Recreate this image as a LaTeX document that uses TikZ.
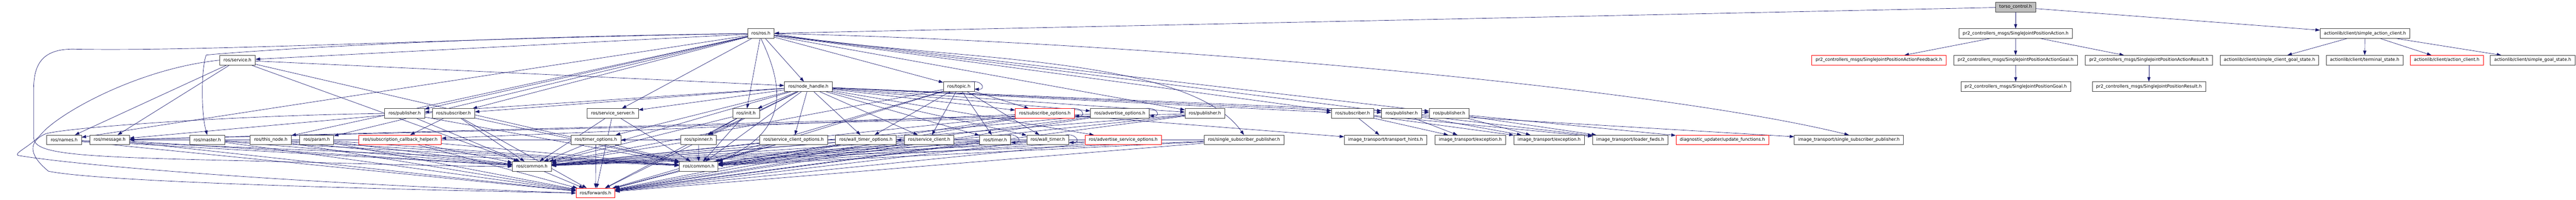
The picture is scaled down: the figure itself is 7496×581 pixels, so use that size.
\documentclass[tikz,border=0pt]{standalone}
\usepackage{fontspec}
\newfontfamily\dvs{DejaVu Sans}
\usetikzlibrary{arrows.meta,backgrounds,calc}
\definecolor{edgeblue}{HTML}{191970}
\definecolor{nodeborder}{HTML}{404040}
\definecolor{nodered}{HTML}{FF0000}
\definecolor{nodegray}{HTML}{BFBFBF}
\begin{document}
\begin{tikzpicture}[x=1bp,y=-1bp,
  box/.style={draw=nodeborder, line width=1.2bp, fill=white, minimum height=27.8bp, inner xsep=11.2bp, inner ysep=0bp, font={\dvs\fontsize{12.7bp}{15bp}\selectfont}, text=black},
  redbox/.style={box, draw=nodered},
  graybox/.style={box, fill=nodegray},
  edge/.style={draw=edgeblue, line width=1bp, -{Triangle[length=13bp,width=9bp]}},
]
\useasboundingbox (0,0) rectangle (7496,581);
% row 0
\node[graybox] (torso) at (5865.3,20.6) {torso\_control.h};
% row 1
\node[box] (rosh) at (2214.3,97.6) {ros/ros.h};
\node[box] (pract) at (5865.3,97.6) {pr2\_controllers\_msgs/SingleJointPositionAction.h};
\node[box] (sac) at (6881.8,97.6) {actionlib/client/simple\_action\_client.h};
% row 2
\node[box] (service) at (691.1,175) {ros/service.h};
\node[redbox] (fb) at (5467.2,175) {pr2\_controllers\_msgs/SingleJointPositionActionFeedback.h};
\node[box] (agoal) at (5865.1,175) {pr2\_controllers\_msgs/SingleJointPositionActionGoal.h};
\node[box] (ares) at (6253.1,175) {pr2\_controllers\_msgs/SingleJointPositionActionResult.h};
\node[box] (scgs) at (6604,175) {actionlib/client/simple\_client\_goal\_state.h};
\node[box] (ts) at (6881,175) {actionlib/client/terminal\_state.h};
\node[redbox] (ac) at (7119.7,175) {actionlib/client/action\_client.h};
\node[box] (sgs) at (7369.9,175) {actionlib/client/simple\_goal\_state.h};
% row 3
\node[box] (nh) at (2352.3,252) {ros/node\_handle.h};
\node[box] (topic) at (2790.1,252) {ros/topic.h};
\node[box] (goal) at (5865.5,252) {pr2\_controllers\_msgs/SingleJointPositionGoal.h};
\node[box] (result) at (6253.1,252) {pr2\_controllers\_msgs/SingleJointPositionResult.h};
% row 4
\node[box] (pubA) at (1177.3,330) {ros/publisher.h};
\node[box] (subA) at (1319.7,330) {ros/subscriber.h};
\node[box] (ss) at (1783,330) {ros/service\_server.h};
\node[box] (initn) at (2171,330) {ros/init.h};
\node[redbox] (so) at (3040.4,330) {ros/subscribe\_options.h};
\node[box] (ao) at (3258.6,330) {ros/advertise\_options.h};
\node[box] (pubB) at (3506.3,330) {ros/publisher.h};
\node[box] (subB) at (3935.9,330) {ros/subscriber.h};
\node[box] (pubC) at (4078.5,330) {ros/publisher.h};
\node[box] (pubD) at (4217,330) {ros/publisher.h};
% row 5
\node[box] (names) at (186.5,407) {ros/names.h};
\node[box] (message) at (319,407) {ros/message.h};
\node[box] (master) at (603,407) {ros/master.h};
\node[box] (thisnode) at (788,407) {ros/this\_node.h};
\node[box] (param) at (921.5,407) {ros/param.h};
\node[redbox] (sch) at (1164.5,407) {ros/subscription\_callback\_helper.h};
\node[box] (tmo) at (1733.8,407) {ros/timer\_options.h};
\node[box] (spinner) at (2032.7,407) {ros/spinner.h};
\node[box] (sco) at (2309.2,407) {ros/service\_client\_options.h};
\node[box] (wto) at (2519.6,407) {ros/wall\_timer\_options.h};
\node[box] (sc) at (2703.7,407) {ros/service\_client.h};
\node[box] (timer) at (2895.8,407) {ros/timer.h};
\node[box] (wt) at (3049,407) {ros/wall\_timer.h};
\node[redbox] (aso) at (3268.6,407) {ros/advertise\_service\_options.h};
\node[box] (ssp) at (3619.8,407) {ros/single\_subscriber\_publisher.h};
\node[box] (th) at (4031.7,407) {image\_transport/transport\_hints.h};
\node[box] (exca) at (4278.5,407) {image\_transport/exception.h};
\node[box] (excb) at (4508,407) {image\_transport/exception.h};
\node[box] (lf) at (4743.9,407) {image\_transport/loader\_fwds.h};
\node[redbox] (duf) at (5012,407) {diagnostic\_updater/update\_functions.h};
\node[box] (itssp) at (5380.1,407) {image\_transport/single\_subscriber\_publisher.h};
% row 6
\node[box] (commonA) at (1547.8,484) {ros/common.h};
\node[box] (commonB) at (2033,484) {ros/common.h};
% row 7
\node[redbox] (fwd) at (1733,561.5) {ros/forwards.h};

\begin{scope}[on background layer]
\foreach \a/\b in {torso/rosh, torso/pract, torso/sac,
  pract/fb, pract/agoal, pract/ares, agoal/goal, ares/result,
  sac/scgs, sac/ts, sac/ac, sac/sgs,
  rosh/service, rosh/nh, rosh/topic, rosh/initn, rosh/pubA, rosh/subA, rosh/ss, rosh/pubB, rosh/subB, rosh/pubC, rosh/pubD, rosh/names, rosh/thisnode, rosh/param,
  service/names, service/message, service/nh, service/commonA, service/commonB}
  \draw[edge] (\a) -- (\b);
\foreach \a/\b in {nh/initn, nh/spinner, nh/sco, nh/wto, nh/tmo, nh/sc, nh/timer, nh/wt, nh/so, nh/ao, nh/aso, nh/pubA, nh/subA, nh/ss, nh/pubB, nh/subB, nh/pubC, nh/pubD, nh/commonA, nh/commonB, nh/fwd,
  topic/sc, topic/timer, topic/wt, topic/so, topic/wto, topic/commonA, topic/commonB, topic/fwd}
  \draw[edge] (\a) -- (\b);
\foreach \a/\b in {pubA/message, pubA/commonA, pubA/commonB,
  subA/sch, subA/commonA, subA/commonB, subA/fwd,
  ss/commonA, ss/commonB, ss/fwd,
  initn/spinner, initn/commonA, initn/commonB, initn/fwd,
  so/sch, so/th, so/commonA, so/commonB, so/fwd,
  ao/message, ao/commonA, ao/commonB, ao/fwd,
  pubB/message, pubB/commonA, pubB/commonB, pubB/fwd,
  subB/th, subB/exca, subB/excb, subB/lf,
  pubC/exca, pubC/excb, pubC/lf, pubC/itssp,
  pubD/excb, pubD/lf, pubD/duf}
  \draw[edge] (\a) -- (\b);
\foreach \a/\b in {names/commonA, names/commonB, names/fwd,
  message/commonA, message/fwd,
  master/commonA, master/commonB, master/fwd,
  thisnode/commonA, thisnode/commonB, thisnode/fwd,
  param/commonA, param/commonB, param/fwd,
  sch/commonA, sch/commonB, sch/fwd,
  tmo/commonA, tmo/commonB, tmo/fwd,
  spinner/commonA, spinner/commonB,
  sco/commonA, sco/commonB, sco/fwd,
  wto/commonA, wto/commonB, wto/fwd,
  sc/commonA, sc/commonB, sc/fwd,
  timer/tmo, timer/commonA, timer/commonB, timer/fwd,
  wt/wto, wt/commonA, wt/commonB, wt/fwd,
  aso/commonA, aso/commonB, aso/fwd,
  ssp/message, ssp/commonA, ssp/commonB, ssp/fwd,
  commonA/fwd, commonB/fwd}
  \draw[edge] (\a) -- (\b);
% curved routes
\draw[edge] (rosh.west) .. controls (1300,108) and (700,150) .. (600,160) .. controls (585,200) and (585,330) .. (master.north);
\draw[edge] (rosh.west) .. controls (1300,112) and (600,150) .. (220,143) .. controls (120,140) and (98,190) .. (98,260) -- (98,400) .. controls (98,445) and (200,455) .. (600,465) .. controls (1000,474) and (1300,484) .. (commonA.west);
\draw[edge] (service.west) .. controls (400,200) and (170,330) .. (120,390) .. controls (90,425) and (40,445) .. (52,452) .. controls (250,485) and (900,535) .. (fwd.west);
\draw[edge] (pubA.west) .. controls (700,335) and (200,370) .. (133,389) .. controls (95,405) and (70,440) .. (141,498) .. controls (300,530) and (1100,550) .. (fwd.west);
\draw[edge] (rosh.east) .. controls (2700,178) and (3450,150) .. (ssp.north);
\draw[edge] (rosh.east) .. controls (3300,120) and (4800,250) .. (itssp.north);
\draw[edge] (rosh.south) .. controls (2280,250) and (2300,380) .. (commonB.north east);
\end{scope}
% self loops
\foreach \n in {topic, timer, wt, so, ao}
  \draw[edge] ($(\n.north east)+(-10,0)$) .. controls +(34,-4) and +(34,2) .. ($(\n.east)+(0,7)$);
\end{tikzpicture}
\end{document}
